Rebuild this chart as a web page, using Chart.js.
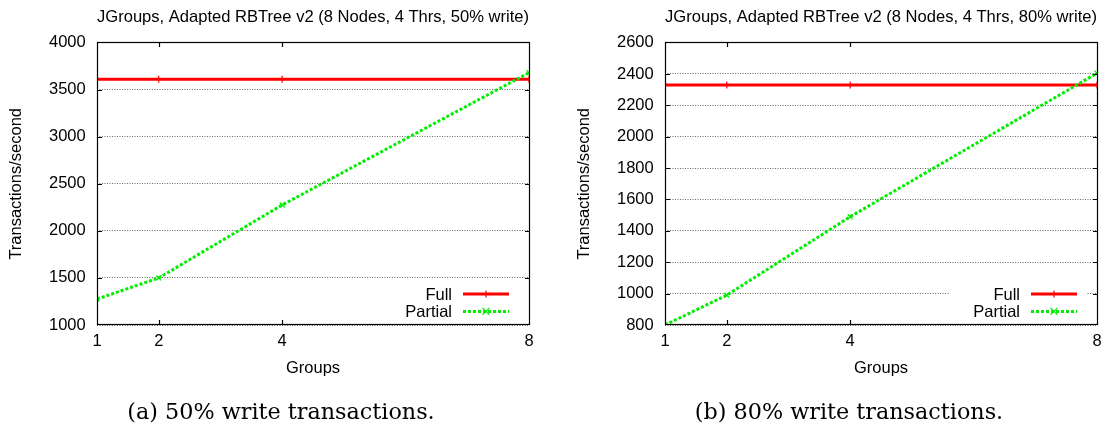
<!DOCTYPE html>
<html>
<head>
<meta charset="utf-8">
<script src="https://cdn.jsdelivr.net/npm/chart.js@4.4.0/dist/chart.umd.min.js"></script>
<style>
  html, body { margin: 0; padding: 0; background: #fff; }
  body { width: 1110px; height: 427px; position: relative; overflow: hidden; }
  .panel { position: absolute; top: 0; width: 555px; height: 427px; }
  .panel canvas { position: absolute; left: 0; top: 0; }
  .caption {
    position: absolute; top: 399px; width: 400px; left: 81px;
    text-align: center; font-family: "DejaVu Serif", serif; font-size: 22.3px;
    line-height: 24px; color: #000; white-space: nowrap;
  }
</style>
</head>
<body>
<div class="panel" style="left:0px"><canvas id="c50" width="555" height="427"></canvas><div class="caption">(a) 50% write transactions.</div></div>
<div class="panel" style="left:568px"><canvas id="c80" width="555" height="427"></canvas><div class="caption">(b) 80% write transactions.</div></div>
<script>
// Number of groups on the x axis and the ticks shown for it
const groups = [1, 2, 4, 8];
const groupTicks = [1, 2, 4, 8];

// 50% write workload (transactions/second)
const full50 = [3610, 3610, 3610, 3610];
const partial50 = [1275, 1500, 2275, 3680];
const yTicks50 = [1000, 1500, 2000, 2500, 3000, 3500, 4000];

// 80% write workload (transactions/second)
const full80 = [2330, 2330, 2330, 2330];
const partial80 = [800, 990, 1490, 2405];
const yTicks80 = [800, 1000, 1200, 1400, 1600, 1800, 2000, 2200, 2400, 2600];

const titles = [
  'JGroups, Adapted RBTree v2 (8 Nodes, 4 Thrs, 50% write)',
  'JGroups, Adapted RBTree v2 (8 Nodes, 4 Thrs, 80% write)'
];
const seriesNames = ['Full', 'Partial'];

const SANS = '"Liberation Sans", Arial, Helvetica, sans-serif';
const FS = 16.5;
const RED = '#ff0000';
const GREEN = '#00ee00';

Chart.defaults.font.family = SANS;
Chart.defaults.color = '#000';

function pairs(xs, ys) { return xs.map((x, i) => ({ x: x, y: ys[i] })); }

// gnuplot-like marker shapes
function drawMarker(ctx, style, x, y, r) {
  ctx.beginPath();
  if (style === 'cross') {
    ctx.moveTo(x - r, y); ctx.lineTo(x + r, y);
    ctx.moveTo(x, y - r); ctx.lineTo(x, y + r);
  } else {
    ctx.moveTo(x - r, y - r); ctx.lineTo(x + r, y + r);
    ctx.moveTo(x - r, y + r); ctx.lineTo(x + r, y - r);
  }
  ctx.stroke();
}

// Plot border with inward tick marks on all four sides
const framePlugin = {
  id: 'frame',
  afterDatasetsDraw(chart) {
    const { ctx, chartArea: a, scales } = chart;
    const L = Math.floor(a.left) + 0.5, R = Math.floor(a.right) + 0.5;
    const T = Math.floor(a.top) + 0.5, B = Math.floor(a.bottom) - 0.5;
    ctx.save();
    ctx.strokeStyle = '#000';
    ctx.lineWidth = 1.2;
    ctx.strokeRect(L, T, R - L, B - T);
    const tl = 4.5;
    ctx.beginPath();
    scales.x.ticks.forEach(t => {
      if (t.value === scales.x.min || t.value === scales.x.max) return;
      const px = Math.round(scales.x.getPixelForValue(t.value)) + 0.5;
      ctx.moveTo(px, B); ctx.lineTo(px, B - tl);
      ctx.moveTo(px, T); ctx.lineTo(px, T + tl);
    });
    scales.y.ticks.forEach(t => {
      if (t.value === scales.y.min || t.value === scales.y.max) return;
      const py = Math.round(scales.y.getPixelForValue(t.value)) + 0.5;
      ctx.moveTo(L, py); ctx.lineTo(L + tl, py);
      ctx.moveTo(R, py); ctx.lineTo(R - tl, py);
    });
    ctx.stroke();
    ctx.restore();
  }
};

// Key inside the plot, bottom right: label, then line sample with marker
const keyPlugin = {
  id: 'gnuKey',
  afterDraw(chart) {
    const { ctx, chartArea: a } = chart;
    const lineEnd = a.right - 20, lineStart = lineEnd - 46;
    const textRight = lineStart - 11;
    ctx.save();
    ctx.fillStyle = '#fff';
    ctx.fillRect(textRight - 71, a.bottom - 40, lineEnd + 10 - (textRight - 71), 36);
    chart.data.datasets.forEach((ds, i) => {
      const rowY = a.bottom - 31 + i * 17.4;
      ctx.font = FS + 'px ' + SANS;
      ctx.fillStyle = '#000';
      ctx.textAlign = 'right';
      ctx.textBaseline = 'alphabetic';
      ctx.fillText(ds.label, textRight, rowY + 6);
      ctx.strokeStyle = ds.borderColor;
      ctx.lineWidth = ds.borderWidth;
      ctx.setLineDash(ds.borderDash || []);
      ctx.beginPath();
      ctx.moveTo(lineStart, rowY); ctx.lineTo(lineEnd, rowY);
      ctx.stroke();
      ctx.setLineDash([]);
      ctx.lineWidth = ds.pointBorderWidth;
      drawMarker(ctx, ds.pointStyle, (lineStart + lineEnd) / 2, rowY, ds.pointRadius);
    });
    ctx.restore();
  }
};

function makeChart(id, title, full, partial, yTicks) {
  return new Chart(document.getElementById(id), {
    type: 'line',
    data: {
      datasets: [
        {
          label: seriesNames[0], data: pairs(groups, full),
          borderColor: RED, backgroundColor: RED, borderWidth: 3,
          pointStyle: 'cross', pointRadius: 3.5, pointBorderWidth: 1.2,
          pointBorderColor: RED, order: 1
        },
        {
          label: seriesNames[1], data: pairs(groups, partial),
          borderColor: GREEN, backgroundColor: GREEN, borderWidth: 3,
          borderDash: [3, 2], borderCapStyle: 'butt',
          pointStyle: 'crossRot', pointRadius: 3.5, pointBorderWidth: 1.2,
          pointBorderColor: GREEN, order: 0
        }
      ]
    },
    options: {
      responsive: false,
      animation: false,
      events: [],
      layout: { padding: { left: 0, right: 26, top: 0, bottom: 0 } },
      plugins: {
        legend: { display: false },
        tooltip: { enabled: false },
        title: {
          display: true, text: title, fullSize: false,
          font: { size: 17, weight: 'normal', family: SANS },
          color: '#000', padding: { top: 7, bottom: 15.2 }
        }
      },
      scales: {
        x: {
          type: 'linear', min: groups[0], max: groups[groups.length - 1],
          afterBuildTicks: s => { s.ticks = groupTicks.map(v => ({ value: v })); },
          afterFit: s => { s.height = 102; },
          grid: { display: false, drawTicks: false },
          border: { display: false },
          ticks: {
            autoSkip: false, maxRotation: 0, padding: 6.8,
            font: { size: FS }, color: '#000',
            callback: v => String(v)
          },
          title: {
            display: true, text: 'Groups', font: { size: FS }, color: '#000',
            padding: { top: 0, bottom: 49 }
          }
        },
        y: {
          type: 'linear', min: yTicks[0], max: yTicks[yTicks.length - 1],
          afterBuildTicks: s => { s.ticks = yTicks.map(v => ({ value: v })); },
          afterFit: s => { s.width = 97; },
          grid: { color: '#666666', lineWidth: 1, drawTicks: false },
          border: { display: false, dash: [1, 1.5] },
          ticks: {
            padding: 11.3, font: { size: FS }, color: '#000',
            callback: v => String(v)
          },
          title: {
            display: true, text: 'Transactions/second', font: { size: FS }, color: '#000',
            padding: { top: 6.8, bottom: 0 }
          }
        }
      }
    },
    plugins: [framePlugin, keyPlugin]
  });
}

makeChart('c50', titles[0], full50, partial50, yTicks50);
makeChart('c80', titles[1], full80, partial80, yTicks80);
</script>
</body>
</html>
